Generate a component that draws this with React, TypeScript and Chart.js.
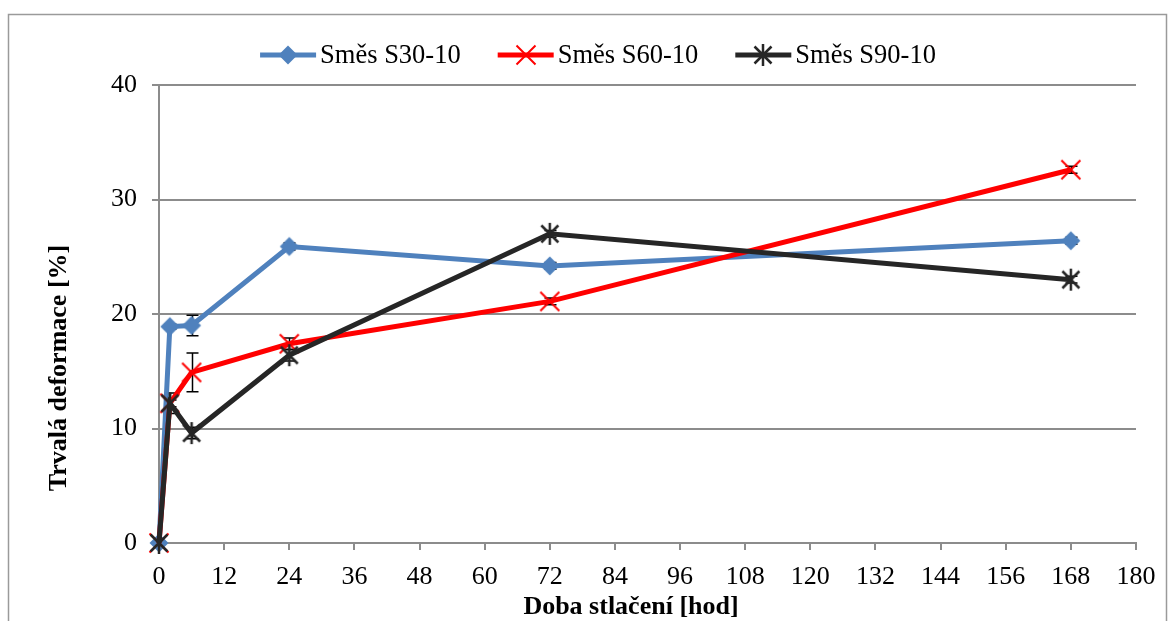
import React, { useEffect, useRef } from 'react';
import { Chart, registerables } from 'chart.js';

Chart.register(...registerables);

// Compression time [h] and permanent deformation [%] of the three mixtures
const hours = [0, 2, 6, 24, 72, 168];
const s30Values = [0, 18.9, 19.0, 25.9, 24.2, 26.4];
const s60Values = [0, 12.2, 14.9, 17.4, 21.1, 32.6];
const s90Values = [0, 12.2, 9.6, 16.4, 27.0, 23.0];

// Standard deviations shown as error bars
const s30Errors = [0, 0.2, 0.9, 0.3, 0.3, 0.3];
const s60Errors = [0, 0.3, 1.7, 0.5, 0.3, 0.3];
const s90Errors = [0, 0.9, 0.5, 0.5, 0.3, 0.3];

const seriesNames = ['Směs S30-10', 'Směs S60-10', 'Směs S90-10'];
const seriesColors = ['#4F81BD', '#FF0000', '#262626'];

const xTickValues = [0, 12, 24, 36, 48, 60, 72, 84, 96, 108, 120, 132, 144, 156, 168, 180];
const yTickValues = [0, 10, 20, 30, 40];

const xTitle = 'Doba stlačení [hod]';
const yTitle = 'Trvalá deformace [%]';

const FONT = "'Liberation Serif', 'Times New Roman', serif";
const GRID = '#8C8C8C';

type MarkerKind = 'diamond' | 'cross' | 'star';

function makeMarker(kind: MarkerKind, color: string): HTMLCanvasElement {
  const c = document.createElement('canvas');
  c.width = 24;
  c.height = 24;
  const g = c.getContext('2d')!;
  const m = 12;
  g.strokeStyle = color;
  g.fillStyle = color;
  if (kind === 'diamond') {
    g.beginPath();
    g.moveTo(m, m - 9.5);
    g.lineTo(m + 9.5, m);
    g.lineTo(m, m + 9.5);
    g.lineTo(m - 9.5, m);
    g.closePath();
    g.fill();
  } else {
    const a = kind === 'cross' ? 9.5 : 8.5;
    g.lineWidth = kind === 'cross' ? 2 : 2.5;
    g.beginPath();
    g.moveTo(m - a, m - a);
    g.lineTo(m + a, m + a);
    g.moveTo(m + a, m - a);
    g.lineTo(m - a, m + a);
    if (kind === 'star') {
      g.moveTo(m, m - 11);
      g.lineTo(m, m + 11);
    }
    g.stroke();
  }
  return c;
}

export default function App() {
  const canvasRef = useRef<HTMLCanvasElement | null>(null);

  useEffect(() => {
    const canvas = canvasRef.current;
    if (!canvas) return;

    const markers = [
      makeMarker('diamond', seriesColors[0]),
      makeMarker('cross', seriesColors[1]),
      makeMarker('star', seriesColors[2]),
    ];
    const values = [s30Values, s60Values, s90Values];
    const errors = [s30Errors, s60Errors, s90Errors];

    const backgroundPlugin = {
      id: 'pageBackground',
      beforeDraw(chart: any) {
        const { ctx, width, height } = chart;
        ctx.save();
        ctx.fillStyle = '#ffffff';
        ctx.fillRect(0, 0, width, height);
        ctx.strokeStyle = '#9A9A9A';
        ctx.lineWidth = 1.5;
        ctx.strokeRect(8.5, 14.5, 1158, 700);
        ctx.restore();
      },
    };

    const errorBarPlugin = {
      id: 'errorBars',
      beforeDatasetsDraw(chart: any) {
        const { ctx } = chart;
        const xs = chart.scales.x;
        const ys = chart.scales.y;
        ctx.save();
        ctx.strokeStyle = '#000000';
        ctx.lineWidth = 1.5;
        errors.forEach((errs, i) => {
          errs.forEach((e, j) => {
            if (!e) return;
            const px = Math.round(xs.getPixelForValue(hours[j])) + 0.5;
            const top = ys.getPixelForValue(values[i][j] + e);
            const bot = ys.getPixelForValue(values[i][j] - e);
            ctx.beginPath();
            ctx.moveTo(px, top);
            ctx.lineTo(px, bot);
            ctx.moveTo(px - 6, top);
            ctx.lineTo(px + 6, top);
            ctx.moveTo(px - 6, bot);
            ctx.lineTo(px + 6, bot);
            ctx.stroke();
          });
        });
        ctx.restore();
      },
    };

    const decorPlugin = {
      id: 'legendAndTitles',
      afterDraw(chart: any) {
        const { ctx } = chart;
        ctx.save();
        // legend: line sample with marker, then the series name
        ctx.font = `26.5px ${FONT}`;
        ctx.textBaseline = 'middle';
        ctx.textAlign = 'left';
        const lineW = 56;
        const gapText = 4;
        const gapItem = 37;
        const widths = seriesNames.map((n) => ctx.measureText(n).width);
        const total =
          widths.reduce((s, w) => s + w + lineW + gapText, 0) + gapItem * (seriesNames.length - 1);
        let x = 598 - total / 2;
        const y = 55;
        seriesNames.forEach((name, i) => {
          ctx.strokeStyle = seriesColors[i];
          ctx.lineWidth = 5;
          ctx.beginPath();
          ctx.moveTo(x, y);
          ctx.lineTo(x + lineW, y);
          ctx.stroke();
          const mk = markers[i];
          ctx.drawImage(mk, Math.round(x + lineW / 2 - mk.width / 2), Math.round(y - mk.height / 2));
          ctx.fillStyle = '#000000';
          ctx.fillText(name, x + lineW + gapText, y + 1);
          x += lineW + gapText + widths[i] + gapItem;
        });

        // axis titles
        ctx.font = `bold 26px ${FONT}`;
        ctx.fillStyle = '#000000';
        ctx.textAlign = 'center';
        ctx.textBaseline = 'middle';
        ctx.fillText(xTitle, 631, 607);
        ctx.translate(59, 368);
        ctx.rotate(-Math.PI / 2);
        ctx.fillText(yTitle, 0, 0);
        ctx.restore();
      },
    };

    const chart = new Chart(canvas, {
      type: 'line',
      data: {
        datasets: seriesNames.map((name, i) => ({
          label: name,
          data: hours.map((h, j) => ({ x: h, y: values[i][j] })),
          borderColor: seriesColors[i],
          backgroundColor: seriesColors[i],
          borderWidth: 5,
          tension: 0,
          pointStyle: markers[i] as any,
          pointRadius: 10,
          clip: false as any,
          order: 2 - i,
        })),
      },
      options: {
        animation: false,
        responsive: false,
        devicePixelRatio: 1,
        layout: { padding: { top: 85, right: 34, bottom: 0, left: 0 } },
        plugins: {
          legend: { display: false },
          tooltip: { enabled: false },
        },
        scales: {
          x: {
            type: 'linear',
            min: 0,
            max: 180,
            afterBuildTicks(scale: any) {
              scale.ticks = xTickValues.map((v) => ({ value: v }));
            },
            afterFit(scale: any) {
              scale.height = 78;
            },
            grid: {
              drawOnChartArea: false,
              drawTicks: true,
              tickLength: 7,
              color: GRID,
              lineWidth: 2,
            },
            border: { display: true, color: GRID, width: 2 },
            ticks: {
              color: '#000000',
              padding: 12,
              maxRotation: 0,
              autoSkip: false,
              font: { family: FONT, size: 26 },
            },
          },
          y: {
            type: 'linear',
            min: 0,
            max: 40,
            afterBuildTicks(scale: any) {
              scale.ticks = yTickValues.map((v) => ({ value: v }));
            },
            afterFit(scale: any) {
              scale.width = 159;
            },
            grid: {
              drawTicks: true,
              tickLength: 7,
              color: GRID,
              lineWidth: 2,
            },
            border: { display: true, color: GRID, width: 2 },
            ticks: {
              color: '#000000',
              padding: 15,
              font: { family: FONT, size: 26 },
            },
          },
        },
      },
      plugins: [backgroundPlugin, errorBarPlugin, decorPlugin],
    });

    return () => chart.destroy();
  }, []);

  return (
    <div style={{ position: 'absolute', left: 0, top: 0, width: 1170, height: 621 }}>
      <canvas ref={canvasRef} width={1170} height={621} style={{ display: 'block' }} />
    </div>
  );
}
